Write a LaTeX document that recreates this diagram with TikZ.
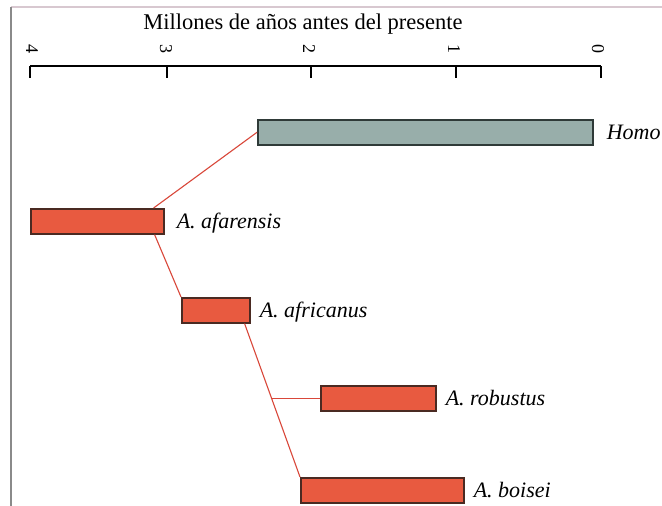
\documentclass[tikz,border=0pt]{standalone}
\usepackage{fontspec}
\setmainfont{Liberation Serif}
\usetikzlibrary{calc}
\definecolor{barred}{HTML}{E85A40}
\definecolor{bardark}{HTML}{4A2A22}
\definecolor{homofill}{HTML}{98AEAA}
\definecolor{homodark}{HTML}{2F3A38}
\definecolor{linkred}{HTML}{D9473A}
\definecolor{framegray}{HTML}{8A8A8A}
\definecolor{toppink}{HTML}{D8C8D0}
\tikzset{
  bar/.style={draw=bardark, line width=1.6pt, fill=barred, inner sep=0pt, anchor=north west},
  homobar/.style={draw=homodark, line width=1.6pt, fill=homofill, inner sep=0pt, anchor=north west},
  taxon/.style={anchor=base west, inner sep=0pt, font=\fontsize{22}{24}\selectfont\itshape},
  link/.style={draw=linkred, line width=1.1pt},
  tick/.style={line width=1.4pt},
  ticklabel/.style={rotate=-90, inner sep=0pt, font=\fontsize{18}{20}\selectfont},
}
\begin{document}
\begin{tikzpicture}[x=1pt,y=-1pt]
\useasboundingbox (0,0) rectangle (662,506);
\fill[white] (0,0) rectangle (662,506);
% frame
\draw[toppink, line width=1.2pt] (11,7) -- (662,7);
\draw[framegray, line width=1.4pt] (11,7) -- (11,506);
% title
\node[anchor=base, inner sep=0pt, font=\fontsize{22.5}{24}\selectfont] (title) at (303,29) {Millones de años antes del presente};
% axis
\coordinate (a4) at (30,66);
\coordinate (a3) at (167,66);
\coordinate (a2) at (311,66);
\coordinate (a1) at (456,66);
\coordinate (a0) at (601,66);
\draw[tick] (a4) -- (a0);
\foreach \t in {a4,a3,a2,a1,a0} {\draw[tick] (\t) -- ++(0,12);}
\node[ticklabel] (l4) at (32,49) {4};
\node[ticklabel] (l3) at (166,49) {3};
\node[ticklabel] (l2) at (309,49) {2};
\node[ticklabel] (l1) at (454,49) {1};
\node[ticklabel] (l0) at (598,49) {0};
% bars
\node[homobar, minimum width=335pt, minimum height=25pt] (homo) at (257,119) {};
\node[bar, minimum width=133pt, minimum height=25pt] (afa) at (30,208) {};
\node[bar, minimum width=68pt, minimum height=25pt] (afr) at (181,297) {};
\node[bar, minimum width=115pt, minimum height=25pt] (rob) at (320,385) {};
\node[bar, minimum width=163pt, minimum height=25pt] (boi) at (300,477) {};
% labels
\node[taxon] (thomo) at ($(homo.east)+(13,7)$) {Homo};
\node[taxon] (tafa) at ($(afa.east)+(12,7)$) {A. afarensis};
\node[taxon] (tafr) at ($(afr.east)+(9,7)$) {A. africanus};
\node[taxon] (trob) at ($(rob.east)+(9,7)$) {A. robustus};
\node[taxon] (tboi) at ($(boi.east)+(9,7)$) {A. boisei};
% connectors
\coordinate (p1) at ($(afa.north east)+(-11,0)$);
\coordinate (p2) at ($(afa.south east)+(-10,0)$);
\coordinate (p3) at ($(afr.south east)+(-6,0)$);
\draw[link] (p1) -- (homo.west);
\draw[link] (p2) -- (afr.north west);
\draw[link] (p3) -- (boi.north west);
\path (p3) -- (boi.north west) coordinate[pos=0.487] (br);
\draw[link] (br) -- (br -| rob.west);
\end{tikzpicture}
\end{document}
